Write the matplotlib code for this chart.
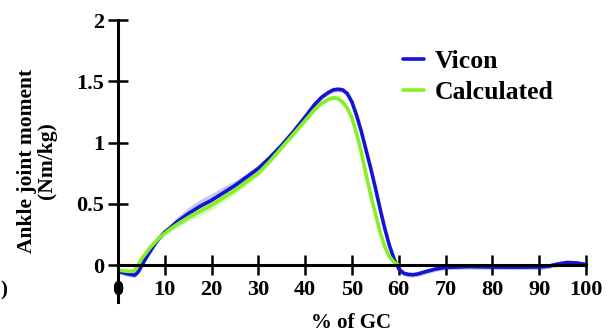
import numpy as np
import matplotlib
matplotlib.use("Agg")
import matplotlib.pyplot as plt

# Vicon (blue) curve, % of gait cycle vs ankle moment (Nm/kg)
gc_vicon = [0, 1, 2, 3, 3.6, 4.2, 4.7, 5.1, 6, 7, 8, 9, 10, 11, 12.5, 15, 17.5, 20, 22.5,
            25, 27.5, 30, 32.5, 35, 37.5, 40, 42, 43.5, 45, 46, 47, 48, 49, 50, 51, 52,
            53, 54, 55, 56, 57, 58, 59, 60, 61, 62, 63, 64, 66, 68, 70, 75, 80, 85, 90,
            92, 94, 96, 98, 100]
vicon = [-0.05, -0.06, -0.07, -0.078, -0.08, -0.06, -0.03, 0.0, 0.06, 0.12, 0.18, 0.23,
         0.27, 0.30, 0.35, 0.42, 0.48, 0.53, 0.59, 0.65, 0.72, 0.79, 0.88, 0.98, 1.09,
         1.21, 1.31, 1.37, 1.41, 1.43, 1.435, 1.43, 1.40, 1.33, 1.22, 1.09, 0.94, 0.79,
         0.63, 0.46, 0.30, 0.16, 0.05, -0.03, -0.065, -0.075, -0.078, -0.072, -0.05,
         -0.03, -0.018, -0.012, -0.015, -0.016, -0.015, -0.008, 0.01, 0.022, 0.018, 0.005]
vicon_sd = [0.02] * 13 + [0.03, 0.04, 0.05, 0.055, 0.055, 0.05, 0.04, 0.03, 0.025] + \
           [0.02] * (len(vicon) - 22)

# Calculated (green) curve, stance only
gc_calc = [0, 1, 2, 3.3, 3.8, 4.3, 5, 6, 7, 8, 9, 10, 11, 12.5, 15, 17.5, 20, 22.5, 25,
           27.5, 30, 32.5, 35, 37.5, 40, 42, 43.5, 45, 46, 47, 48, 49, 50, 51, 52, 53,
           54, 55, 56, 57, 58, 59, 60]
calc = [-0.04, -0.045, -0.05, -0.05, -0.03, 0.0, 0.05, 0.10, 0.15, 0.19, 0.23, 0.26,
        0.29, 0.33, 0.39, 0.44, 0.49, 0.55, 0.61, 0.68, 0.75, 0.85, 0.96, 1.07, 1.18,
        1.27, 1.32, 1.355, 1.365, 1.36, 1.33, 1.28, 1.20, 1.07, 0.92, 0.74, 0.57, 0.42,
        0.27, 0.15, 0.07, 0.025, 0.0]
calc_sd = [0.02] * 13 + [0.025, 0.035, 0.04, 0.04, 0.035, 0.03, 0.025] + \
          [0.02] * (len(calc) - 20)

xticks = [0, 10, 20, 30, 40, 50, 60, 70, 80, 90, 100]
yticks = [0, 0.5, 1, 1.5, 2]
ytick_labels = ["0", "0.5", "1", "1.5", "2"]

blue = "#1414d8"
green = "#86f020"
font = "Liberation Serif"

fig = plt.figure(figsize=(6.1, 3.33), dpi=100)
ax = fig.add_axes([0.1934, 0.0931, 0.7673, 0.8468])

gv = np.array(gc_vicon); v = np.array(vicon); vs = np.array(vicon_sd)
gcx = np.array(gc_calc); c = np.array(calc); cs = np.array(calc_sd)

ax.fill_between(gv, v - vs, v + vs, color="#9aa8f0", alpha=0.6, lw=0)
ax.fill_between(gcx, c - cs, c + cs, color="#c4f49a", alpha=0.6, lw=0)
ax.plot(gv, v, color=blue, lw=2.6, label="Vicon", solid_capstyle="round",
        solid_joinstyle="round")
ax.plot(gcx, c, color=green, lw=2.6, label="Calculated", solid_capstyle="round",
        solid_joinstyle="round")

ax.set_xlim(0, 100)
ax.set_ylim(-0.3, 2)
ax.spines["top"].set_visible(False)
ax.spines["right"].set_visible(False)
ax.spines["bottom"].set_position(("data", 0))
ax.spines["bottom"].set_linewidth(2.2)
ax.spines["left"].set_linewidth(2.2)

ax.set_xticks(xticks)
ax.set_yticks(yticks)
ax.set_yticklabels(ytick_labels)
ax.tick_params(axis="both", direction="inout", length=14, width=1.8, labelsize=16)
ax.tick_params(axis="x", pad=4)
ax.tick_params(axis="y", pad=3)
for lab in ax.get_xticklabels() + ax.get_yticklabels():
    lab.set_fontfamily(font)
    lab.set_fontweight("bold")

fig.text(37 / 610, 0.517, "Ankle joint moment\n(Nm/kg)", rotation=90, ha="center",
         va="center", fontsize=15.5, fontweight="bold", family=font, linespacing=1.05)
fig.text(351 / 610, 1 - 323 / 333, "% of GC", ha="center", va="center", fontsize=15,
         fontweight="bold", family=font)
fig.text(0.001, 1 - 290 / 333, ")", ha="left", va="center", fontsize=15,
         fontweight="bold", family=font)

leg = ax.legend(loc="upper left", bbox_to_anchor=(403 / 610, 1 - 50 / 333),
                bbox_transform=fig.transFigure, frameon=False, borderpad=0,
                borderaxespad=0, prop={"family": font, "weight": "bold", "size": 18.5},
                handlelength=0.8, handletextpad=0.45, labelspacing=0.3)

fig.savefig("out.png", dpi=100)
